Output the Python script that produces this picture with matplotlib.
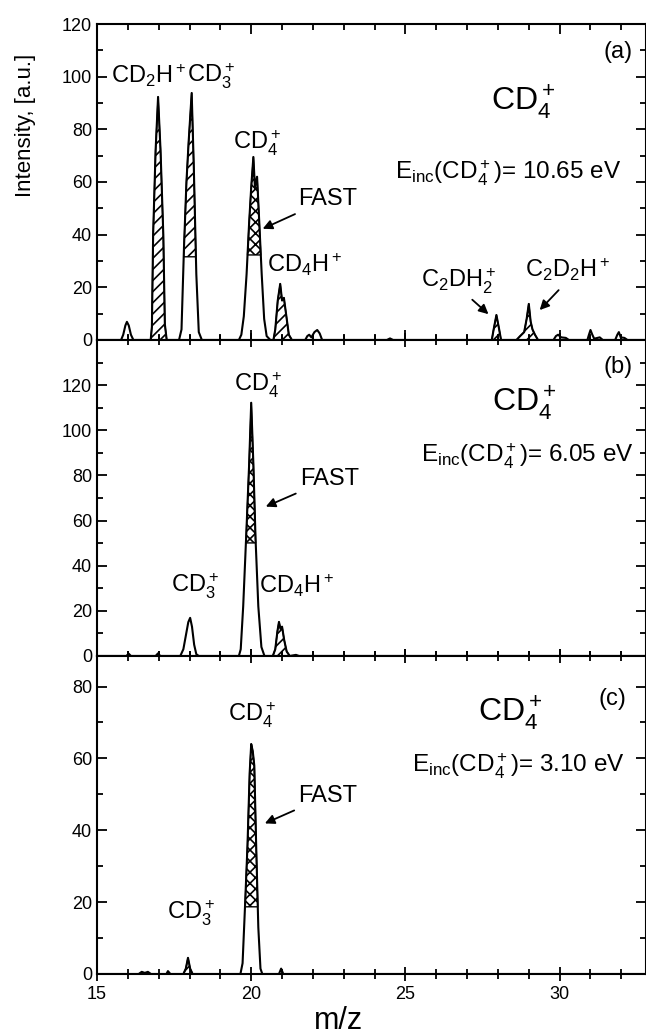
import matplotlib
matplotlib.use("Agg")
import numpy as np
import matplotlib.pyplot as plt
from matplotlib.ticker import MultipleLocator

plt.rcParams['font.family'] = ['Liberation Sans', 'DejaVu Sans']
plt.rcParams['mathtext.fontset'] = 'custom'
plt.rcParams['mathtext.rm'] = 'Liberation Sans'
plt.rcParams['mathtext.it'] = 'Liberation Sans:italic'
plt.rcParams['mathtext.bf'] = 'Liberation Sans:bold'
plt.rcParams['hatch.linewidth'] = 1.2

# ---------------- data ----------------
# panel (a): E_inc = 10.65 eV
mz_a = [15.0, 15.78, 15.85, 15.92, 15.97, 16.03, 16.1, 16.18,
        16.74, 16.78, 16.82, 16.9, 16.98, 17.06, 17.15, 17.2, 17.26,
        17.66, 17.74, 17.82, 17.9, 17.97, 18.07, 18.14, 18.22, 18.3, 18.4,
        19.6, 19.68, 19.76, 19.85, 19.93, 20.0, 20.07, 20.12, 20.19, 20.26, 20.34, 20.42, 20.5, 20.62,
        20.72, 20.78, 20.86, 20.94, 21.0, 21.06, 21.14, 21.22, 21.32,
        21.75, 21.82, 21.88, 21.95, 22.05, 22.14, 22.22, 22.3,
        24.4, 24.5, 24.6,
        27.8, 27.86, 27.95, 28.04, 28.1,
        28.6, 28.72, 28.85, 28.93, 29.0, 29.06, 29.12, 29.2, 29.3,
        29.8, 29.88, 29.95, 30.05, 30.2, 30.3,
        30.9, 30.95, 31.0, 31.06, 31.12, 31.3, 31.4,
        31.8, 31.87, 31.92, 31.98, 32.1, 32.2, 32.8]
int_a = [0, 0, 2, 5.5, 6.9, 5.5, 2, 0,
         0, 5, 40, 72, 92.3, 72, 40, 6, 0,
         0, 4, 35, 60, 75, 93.8, 65, 25, 3, 0,
         0, 2, 9, 25, 44, 58, 69.5, 58, 62, 45, 25, 8, 1.5, 0,
         0, 4, 15, 21.3, 15, 16, 9, 2, 0,
         0, 1.5, 2, 1, 3, 3.8, 2.5, 0,
         0, 0.6, 0,
         0, 4, 9.5, 4, 0,
         0, 1.5, 3, 8, 13.7, 7, 4, 2, 0,
         0, 1.5, 2, 1, 0.8, 0,
         0, 2, 3.8, 2, 0.5, 1, 0,
         0, 2, 3, 1, 0.8, 0, 0]

# panel (b): E_inc = 6.05 eV
mz_b = [15.0, 15.95, 16.03, 16.1, 16.9, 16.98, 17.05,
        17.7, 17.8, 17.88, 17.96, 18.02, 18.08, 18.15, 18.22, 18.3,
        19.6, 19.66, 19.74, 19.84, 19.93, 20.0, 20.07, 20.14, 20.23, 20.33, 20.43,
        20.7, 20.78, 20.85, 20.9, 20.95, 21.0, 21.07, 21.15, 21.25,
        21.45, 21.55, 32.8]
int_b = [0, 0, 1, 0, 0, 1.2, 0,
         0, 3, 9, 15, 16.9, 13, 5, 0.8, 0,
         0, 3, 22, 54, 84, 112.2, 85, 52, 22, 4, 0,
         0, 3, 11, 15.1, 12, 13, 7, 2, 0,
         0.5, 0, 0]

# panel (c): E_inc = 3.10 eV
mz_c = [15.0, 16.35, 16.45, 16.55, 16.65, 16.75, 17.25, 17.3, 17.38,
        17.8, 17.88, 17.95, 18.02, 18.1,
        19.65, 19.72, 19.8, 19.88, 19.95, 20.0, 20.05, 20.1, 20.16, 20.23, 20.3, 20.36,
        20.9, 20.97, 21.04, 32.8]
int_c = [0, 0, 0.6, 0.3, 0.6, 0, 0, 0.8, 0,
         0, 1.5, 4.5, 1.5, 0,
         0, 3, 19, 36, 56, 64, 62, 58, 36, 13, 1.5, 0,
         0, 1.5, 0, 0]

# hatched parts: (from m/z, to m/z, lower intensity, hatch)
hatch_a = [(16.7, 17.3, 0, '///'), (17.6, 18.4, 31.6, '///'), (19.6, 20.6, 32.3, 'xxx'),
           (20.7, 21.35, 0, '///'), (27.8, 28.1, 0, '///'), (28.6, 29.3, 0, '///')]
hatch_b = [(19.6, 20.45, 50.1, 'xxx'), (20.7, 21.3, 0, '///')]
hatch_c = [(17.8, 18.1, 0, '///'), (19.6, 20.4, 18.7, 'xxx')]

# ---------------- figure ----------------
fig = plt.figure(figsize=(6.46, 10.34), dpi=100)
left, width = 97 / 646, 549 / 646
ax_a = fig.add_axes([left, 1 - 340 / 1034, width, 316 / 1034])
ax_b = fig.add_axes([left, 1 - 656 / 1034, width, 316 / 1034])
ax_c = fig.add_axes([left, 1 - 974 / 1034, width, 318 / 1034])

panels = [(ax_a, mz_a, int_a, hatch_a, 120),
          (ax_b, mz_b, int_b, hatch_b, 140),
          (ax_c, mz_c, int_c, hatch_c, 88.5)]

for ax, mz, inten, hatches, ytop in panels:
    x = np.array(mz)
    y = np.array(inten)
    ax.plot(x, y, color='black', lw=1.5)
    for lo, hi, base, hp in hatches:
        sel = (x >= lo) & (x <= hi)
        ax.fill_between(x[sel], base, y[sel], where=y[sel] >= base, interpolate=True,
                        facecolor='none', edgecolor='black', hatch=hp, lw=1.0)
    ax.set_xlim(15, 32.8)
    ax.set_ylim(0, ytop)
    ax.set_yticks(np.arange(0, min(ytop, 120) + 1, 20))
    ax.yaxis.set_minor_locator(MultipleLocator(10))
    ax.xaxis.set_major_locator(MultipleLocator(5))
    ax.xaxis.set_minor_locator(MultipleLocator(1))
    for s in ax.spines.values():
        s.set_linewidth(1.5)
    ax.tick_params(which='both', direction='in', top=True, right=True, width=1.3,
                   labelsize=13)
    ax.tick_params(which='major', length=7)
    ax.tick_params(which='minor', length=4)

for ax in (ax_b, ax_c):
    ax.tick_params(axis='x', which='both', direction='inout')
    ax.tick_params(axis='x', which='major', length=10)
    ax.tick_params(axis='x', which='minor', length=7)
ax_a.tick_params(labelbottom=False)
ax_b.tick_params(labelbottom=False)

lab = 17
arrow = dict(arrowstyle='-|>', color='black', lw=1.3, mutation_scale=14)

# panel (a) labels
ax_a.text(16.66, 97.6, r'$\mathrm{CD_2H^+}$', ha='center', va='baseline', fontsize=lab)
ax_a.text(18.7, 97.6, r'$\mathrm{CD}_3^+$', ha='center', va='baseline', fontsize=lab)
ax_a.text(20.2, 72.2, r'$\mathrm{CD}_4^+$', ha='center', va='baseline', fontsize=lab)
ax_a.text(21.72, 25.8, r'$\mathrm{CD_4H^+}$', ha='center', va='baseline', fontsize=lab)
ax_a.annotate('FAST', xy=(20.29, 41.8), xytext=(21.53, 51.2), fontsize=lab,
              ha='left', va='baseline', arrowprops=arrow)
ax_a.text(26.72, 20.1, r'$\mathrm{C_2DH}_2^+$', ha='center', va='baseline', fontsize=lab)
ax_a.annotate('', xy=(27.76, 9.1), xytext=(27.1, 16), arrowprops=arrow)
ax_a.text(30.26, 24, r'$\mathrm{C_2D_2H^+}$', ha='center', va='baseline', fontsize=lab)
ax_a.annotate('', xy=(29.29, 10.6), xytext=(30.03, 19.7), arrowprops=arrow)
ax_a.text(28.8, 87.4, r'$\mathrm{CD}_4^+$', ha='center', va='baseline', fontsize=23)
ax_a.text(28.34, 60.8, r'E$_{\mathrm{inc}}$(CD$_4^+$)= 10.65 eV', ha='center',
          va='baseline', fontsize=17.5)
ax_a.text(31.88, 107, '(a)', ha='center', va='baseline', fontsize=17)

# panel (b) labels
ax_b.text(20.23, 117.1, r'$\mathrm{CD}_4^+$', ha='center', va='baseline', fontsize=lab)
ax_b.annotate('FAST', xy=(20.39, 65.7), xytext=(21.6, 75.9), fontsize=lab,
              ha='left', va='baseline', arrowprops=arrow)
ax_b.text(18.18, 28, r'$\mathrm{CD}_3^+$', ha='center', va='baseline', fontsize=lab)
ax_b.text(21.46, 28, r'$\mathrm{CD_4H^+}$', ha='center', va='baseline', fontsize=lab)
ax_b.text(28.86, 108.3, r'$\mathrm{CD}_4^+$', ha='center', va='baseline', fontsize=23)
ax_b.text(28.96, 85.6, r'E$_{\mathrm{inc}}$(CD$_4^+$)= 6.05 eV', ha='center',
          va='baseline', fontsize=17.5)
ax_b.text(31.88, 125.6, '(b)', ha='center', va='baseline', fontsize=17)

# panel (c) labels
ax_c.text(20.03, 70.4, r'$\mathrm{CD}_4^+$', ha='center', va='baseline', fontsize=lab)
ax_c.annotate('FAST', xy=(20.36, 41.6), xytext=(21.53, 48), fontsize=lab,
              ha='left', va='baseline', arrowprops=arrow)
ax_c.text(18.05, 15.1, r'$\mathrm{CD}_3^+$', ha='center', va='baseline', fontsize=lab)
ax_c.text(28.38, 70.4, r'$\mathrm{CD}_4^+$', ha='center', va='baseline', fontsize=23)
ax_c.text(28.67, 56.1, r'E$_{\mathrm{inc}}$(CD$_4^+$)= 3.10 eV', ha='center',
          va='baseline', fontsize=17.5)
ax_c.text(31.72, 75, '(c)', ha='center', va='baseline', fontsize=17)

ax_c.set_xlabel('m/z', fontsize=22, labelpad=0)
ax_c.xaxis.set_label_coords(0.44, -0.1)
fig.text(26 / 646, 1 - 125 / 1034, 'Intensity, [a.u.]', rotation=90,
         ha='center', va='center', fontsize=16)

fig.savefig('out.png', dpi=100)
